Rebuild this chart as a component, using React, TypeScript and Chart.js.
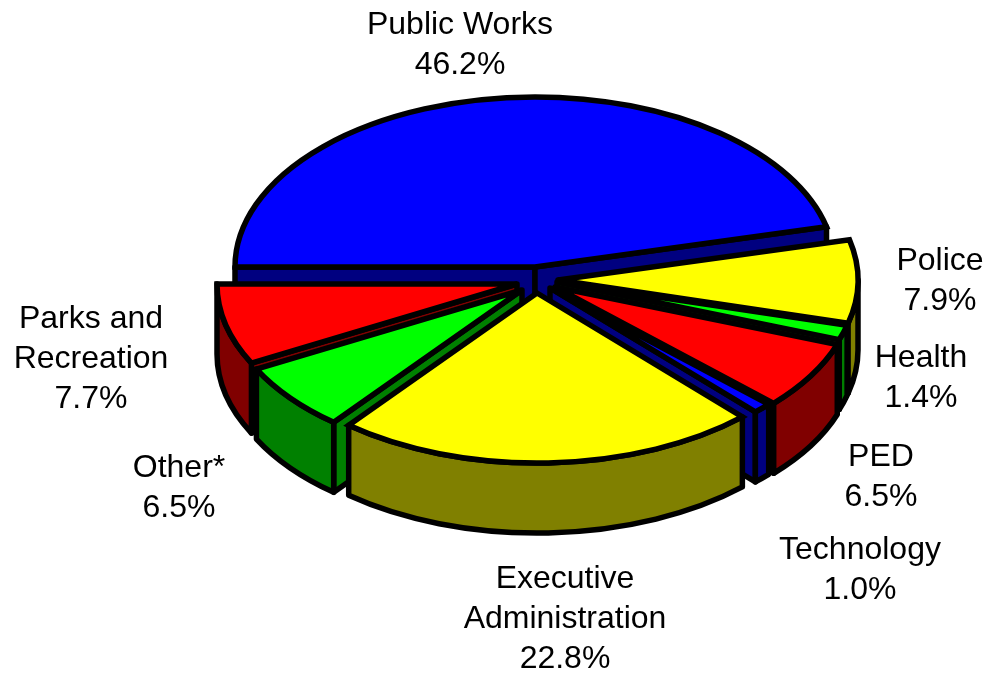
import React, { useEffect, useRef } from "react";
import { Chart, registerables } from "chart.js";

Chart.register(...registerables);

const categories = ["Public Works", "Police", "Health", "PED", "Technology", "Executive Administration", "Other*", "Parks and Recreation"];
const shares = [46.2, 7.9, 1.4, 6.5, 1.0, 22.8, 6.5, 7.7];
const labelLines = [
  ["Public Works", "46.2%"],
  ["Police", "7.9%"],
  ["Health", "1.4%"],
  ["PED", "6.5%"],
  ["Technology", "1.0%"],
  ["Executive", "Administration", "22.8%"],
  ["Other*", "6.5%"],
  ["Parks and", "Recreation", "7.7%"],
];

const topColors = ["#0000FF", "#FFFF00", "#00FF00", "#FF0000", "#0000FF", "#FFFF00", "#00FF00", "#FF0000"];
const wallColors = ["#000080", "#808000", "#008000", "#800000", "#000080", "#808000", "#008000", "#800000"];

// explosion of each slice from the pie's centre, in screen pixels
const explodeX = [0, 23, 22, 20, 15, 2, -13, -18];
const explodeY = [0, 13, 15, 20, 21, 26, 23, 17];
// centre x and first baseline of each label block
const labelX = [460, 940, 921, 881, 860, 565, 179, 91];
const labelY = [34, 270, 367, 466, 559, 588, 477, 328];
const LINE_HEIGHT = 40;

const RADIUS = 300;
const SQUASH = 170 / 300;
const DEPTH = 70;
const STROKE = 5.5;
const TAU = Math.PI * 2;

const squashedPie = {
  id: "squashedPie",
  afterDatasetsUpdate(chart: any) {
    const { left, right, top, bottom } = chart.chartArea;
    const cx = (left + right) / 2;
    const cy = (top + bottom) / 2;
    chart.getDatasetMeta(0).data.forEach((arc: any, i: number) => {
      arc.x = cx + explodeX[i];
      arc.y = cy + explodeY[i] / SQUASH;
    });
  },
  beforeDatasetsDraw(chart: any) {
    const ctx: CanvasRenderingContext2D = chart.ctx;
    const { top, bottom } = chart.chartArea;
    const cy = (top + bottom) / 2;
    const toScreen = (y: number) => cy + (y - cy) * SQUASH;
    const arcs = chart.getDatasetMeta(0).data.map((arc: any, i: number) => ({ arc, i, y: toScreen(arc.y) }));
    const order = [...arcs].sort(
      (a: any, b: any) =>
        Math.sin((a.arc.startAngle + a.arc.endAngle) / 2) - Math.sin((b.arc.startAngle + b.arc.endAngle) / 2)
    );
    ctx.save();
    ctx.lineWidth = STROKE;
    ctx.lineJoin = "round";
    ctx.strokeStyle = "#000";
    const paint = (fill: string) => {
      ctx.closePath();
      ctx.fillStyle = fill;
      ctx.fill();
      ctx.stroke();
    };
    for (const { arc, i, y } of order) {
      const a0 = arc.startAngle;
      const a1 = arc.endAngle;
      const R = arc.outerRadius;
      const rimX = (a: number) => arc.x + R * Math.cos(a);
      const rimY = (a: number) => y + R * SQUASH * Math.sin(a);
      const cut = (a: number) => {
        ctx.beginPath();
        ctx.moveTo(arc.x, y);
        ctx.lineTo(rimX(a), rimY(a));
        ctx.lineTo(rimX(a), rimY(a) + DEPTH);
        ctx.lineTo(arc.x, y + DEPTH);
        paint(wallColors[i]);
      };
      if (Math.cos(a0) < 0) cut(a0);
      if (Math.cos(a1) > 0) cut(a1);
      for (let n = -2; n <= 2; n++) {
        const from = Math.max(a0, n * TAU);
        const to = Math.min(a1, n * TAU + Math.PI);
        if (to <= from) continue;
        ctx.beginPath();
        ctx.ellipse(arc.x, y, R, R * SQUASH, 0, from, to);
        ctx.ellipse(arc.x, y + DEPTH, R, R * SQUASH, 0, to, from, true);
        paint(wallColors[i]);
      }
    }
    ctx.restore();
    ctx.save();
    ctx.translate(0, cy);
    ctx.scale(1, SQUASH);
    ctx.translate(0, -cy);
  },
  afterDatasetsDraw(chart: any) {
    const ctx: CanvasRenderingContext2D = chart.ctx;
    ctx.restore();
    const { top, bottom } = chart.chartArea;
    const cy = (top + bottom) / 2;
    ctx.save();
    ctx.lineWidth = STROKE;
    ctx.lineJoin = "miter";
    ctx.miterLimit = 3;
    ctx.strokeStyle = "#000";
    chart.getDatasetMeta(0).data.forEach((arc: any) => {
      const y = cy + (arc.y - cy) * SQUASH;
      ctx.beginPath();
      ctx.moveTo(arc.x, y);
      ctx.ellipse(arc.x, y, arc.outerRadius, arc.outerRadius * SQUASH, 0, arc.startAngle, arc.endAngle);
      ctx.closePath();
      ctx.stroke();
    });
    ctx.fillStyle = "#000";
    ctx.font = '32px "Liberation Sans", Arial, sans-serif';
    ctx.textAlign = "center";
    ctx.textBaseline = "alphabetic";
    labelLines.forEach((lines, i) => {
      lines.forEach((line, j) => ctx.fillText(line, labelX[i], labelY[i] + j * LINE_HEIGHT));
    });
    ctx.restore();
  },
};

export default function App() {
  const ref = useRef<HTMLCanvasElement>(null);
  useEffect(() => {
    const chart = new Chart(ref.current!, {
      type: "pie",
      data: {
        labels: categories,
        datasets: [{ data: shares, backgroundColor: topColors, borderWidth: 0 }],
      },
      options: {
        animation: false,
        responsive: false,
        events: [],
        rotation: -90,
        radius: RADIUS,
        layout: { padding: { left: 81, right: 0, top: 0, bottom: 139 } },
        plugins: { legend: { display: false }, tooltip: { enabled: false } },
      },
      plugins: [squashedPie],
    } as any);
    return () => chart.destroy();
  }, []);
  return (
    <div style={{ position: "fixed", left: 0, top: 0, width: 989, height: 673, background: "#fff" }}>
      <canvas ref={ref} width={989} height={673} style={{ display: "block" }} />
    </div>
  );
}
